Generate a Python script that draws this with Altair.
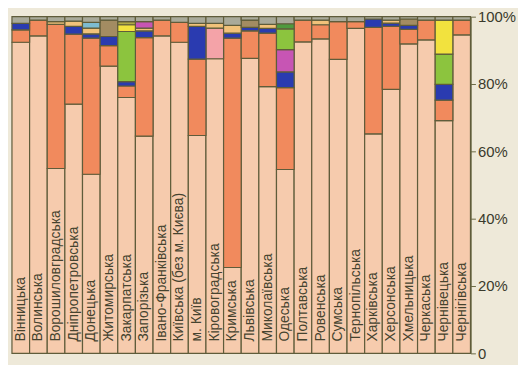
import altair as alt
import pandas as pd

regions = ["Вінницька", "Волинська", "Ворошиловградська", "Дніпропетровська", "Донецька",
           "Житомирська", "Закарпатська", "Запорізька", "Івано-Франківська",
           "Київська (без м. Києва)", "м. Київ", "Кіровоградська", "Кримська", "Львівська",
           "Миколаївська", "Одеська", "Полтавська", "Ровенська", "Сумська", "Тернопільська",
           "Харківська", "Херсонська", "Хмельницька", "Черкаська", "Чернівецька", "Чернігівська"]

ukr = [92.4, 94.3, 54.9, 74.0, 53.2, 85.3, 76.0, 64.5, 94.3, 92.4, 64.7, 87.5, 25.5,
       87.6, 79.2, 54.6, 92.5, 93.4, 87.3, 96.5, 65.2, 78.4, 91.9, 93.1, 69.1, 94.6]
rus = [3.7, 4.7, 42.8, 20.8, 40.4, 6.1, 3.4, 29.3, 4.7, 5.9, 22.7, 0, 68.1,
       8.2, 15.9, 24.3, 6.5, 4.2, 11.2, 2.0, 31.6, 18.7, 4.3, 5.9, 6.1, 4.4]
pink = [0, 0, 0, 0, 0, 0, 0, 0, 0, 0, 0, 9.1, 0,
        0, 0, 0, 0, 0, 0, 0, 0, 0, 0, 0, 0, 0]
blue = [1.9, 0, 0, 2.3, 1.3, 2.7, 1.3, 2.0, 0, 0, 9.7, 0, 1.5,
        1.0, 1.4, 4.7, 0, 0, 0, 0, 2.5, 1.0, 1.2, 0, 4.7, 0]
tan = [0, 0, 0.8, 1.6, 1.7, 0, 0, 0.8, 0, 0, 0.9, 1.4, 2.3,
       0, 1.2, 0, 0, 1.4, 0, 0, 0, 0.9, 0, 0, 0, 0]
lightblue = [0, 0, 0, 0, 1.7, 0, 0, 0, 0, 0, 0, 0, 0,
             0, 0, 0, 0, 0, 0, 0, 0, 0, 0, 0, 0, 0]
olive = [0, 0, 0, 0, 0, 4.9, 0, 0, 0, 0, 0, 0, 0,
         2.2, 0, 0, 0, 0, 0, 0, 0, 0, 1.9, 0, 0, 0]
magenta = [0, 0, 0, 0, 0, 0, 0, 1.9, 0, 0, 0, 0, 0,
           0, 0, 6.6, 0, 0, 0, 0, 0, 0, 0, 0, 0, 0]
lime = [0, 0, 0, 0, 0, 0, 14.9, 0, 0, 0, 0, 0, 0,
        0, 0, 6.2, 0, 0, 0, 0, 0, 0, 0, 0, 9.0, 0]
darkgreen = [0, 0, 0, 0, 0, 0, 0, 0, 0, 0, 0, 0, 0,
             0, 0, 1.5, 0, 0, 0, 0, 0, 0, 0, 0, 0, 0]
yellow = [0, 0, 0, 0, 0, 0, 2.0, 0, 0, 0, 0, 0, 0,
          0, 0, 0, 0, 0, 0, 0, 0, 0, 0, 0, 10.1, 0]
oliveyellow = [0, 0, 0, 0, 0, 0, 0.9, 0, 0, 0, 0, 0, 0,
               0, 0, 0, 0, 0, 0, 0, 0, 0, 0, 0, 0, 0]
gray = [2.0, 1.0, 1.5, 1.3, 1.7, 1.0, 1.5, 1.5, 1.0, 1.7, 2.0, 2.0, 2.6,
        1.0, 2.3, 2.1, 1.0, 1.0, 1.5, 1.5, 0.7, 1.0, 0.7, 1.0, 1.0, 1.0]

series = [("ukr", ukr, "#f6cbad"), ("rus", rus, "#f18a5d"), ("pink", pink, "#f4a3a8"),
          ("blue", blue, "#2a3bb0"), ("tan", tan, "#f1c27a"), ("lightblue", lightblue, "#7dbcd2"),
          ("olive", olive, "#a38c62"), ("magenta", magenta, "#c755b4"), ("lime", lime, "#8cc43e"),
          ("darkgreen", darkgreen, "#4f9a3e"), ("yellow", yellow, "#f2e23e"),
          ("oliveyellow", oliveyellow, "#b0aa44"), ("gray", gray, "#a9aa9a")]

rows = []
for k, (name, vals, col) in enumerate(series):
    for r, v in zip(regions, vals):
        if v > 0:
            rows.append({"region": r, "group": name, "value": v, "ord": k})
df = pd.DataFrame(rows)
lab = pd.DataFrame({"region": regions})

xenc = alt.X("region:N", sort=regions, axis=None,
             scale=alt.Scale(paddingInner=0, paddingOuter=0))

bars = alt.Chart(df).mark_bar(stroke="#5f5c3a", strokeWidth=1.2).encode(
    x=xenc,
    y=alt.Y("value:Q", stack="zero", scale=alt.Scale(domain=[0, 100], nice=False),
            axis=alt.Axis(orient="right", values=[0, 20, 40, 60, 80, 100], title=None,
                          labelExpr="datum.value == 0 ? '0' : datum.value + '%'",
                          grid=False, domainColor="#6b6a45", tickColor="#6b6a45",
                          tickSize=5, labelFontSize=15, labelColor="#3a3a2c",
                          labelFont="Liberation Sans", labelPadding=2, domainWidth=1.5)),
    color=alt.Color("group:N", legend=None,
                    scale=alt.Scale(domain=[s[0] for s in series], range=[s[2] for s in series])),
    order=alt.Order("ord:Q", sort="ascending"),
)

text = alt.Chart(lab).mark_text(angle=270, align="left", baseline="middle",
                                fontSize=14, font="Liberation Sans", color="#45432f").encode(
    x=xenc,
    y=alt.datum(3.5),
    text="region:N",
)

chart = alt.layer(bars, text).properties(
    width=463, height=340,
    padding={"left": 4, "top": 7, "right": 48, "bottom": 10},
    autosize="none",
    background="#eee9d9",
).configure_view(stroke=None)

chart.save("out.html", embed_options={"renderer": "svg", "actions": False})
